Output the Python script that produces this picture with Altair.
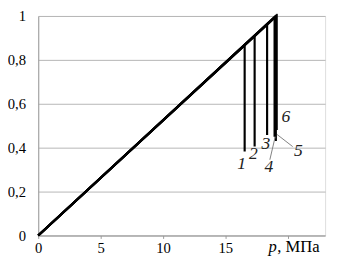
import altair as alt
import pandas as pd

# curve data: each curve rises linearly from origin to its peak, then drops
curve_ids = ["1", "2", "3", "4", "5", "6"]
peak_p = [16.55, 17.35, 18.35, 18.95, 19.05, 19.12]
peak_s = [0.868, 0.91, 0.963, 0.995, 1.0, 1.0]
drop_s = [0.383, 0.405, 0.458, 0.45, 0.43, 0.48]

# curve number labels (data coordinates)
label_p = [16.3, 17.25, 18.25, 18.5, 20.85, 19.85]
label_s = [0.325, 0.37, 0.415, 0.31, 0.383, 0.537]

# leader lines for labels 4 and 5
leader_id = ["4", "4", "5", "5"]
leader_p = [18.57, 19.0, 19.15, 20.4]
leader_s = [0.345, 0.45, 0.46, 0.405]

y_ticks = [0, 0.2, 0.4, 0.6, 0.8, 1.0]
x_ticks = [0, 5, 10, 15, 20]

rows = []
for cid, pp, ps, ds in zip(curve_ids, peak_p, peak_s, drop_s):
    rows.append({"curve": cid, "p": 0.0, "s": 0.0, "o": 0})
    rows.append({"curve": cid, "p": pp, "s": ps, "o": 1})
    rows.append({"curve": cid, "p": pp, "s": ds, "o": 2})
curves = pd.DataFrame(rows)
labels = pd.DataFrame({"t": curve_ids, "p": label_p, "s": label_s})
leaders = pd.DataFrame({"id": leader_id, "p": leader_p, "s": leader_s})

FONT = "Liberation Serif"
xs = alt.Scale(domain=[0, 23], nice=False, zero=False)
ys = alt.Scale(domain=[0, 1], nice=False)

x_axis = alt.Axis(values=x_ticks, title=None, grid=False,
                  labelExpr="datum.value == 20 ? '' : datum.label",
                  labelFont=FONT, labelFontSize=15, labelColor="#000",
                  domainColor="#9a9a9a", tickColor="#9a9a9a", tickSize=3,
                  labelPadding=2, labelFlush=False)
y_axis = alt.Axis(values=y_ticks, title=None, grid=True, gridColor="#b5b5b5",
                  labelExpr="replace(format(datum.value, '.1~f'), '.', ',')",
                  labelFont=FONT, labelFontSize=15, labelColor="#000",
                  domainColor="#9a9a9a", ticks=False, labelPadding=13)

lines = alt.Chart(curves).mark_line(color="black", strokeWidth=2.2).encode(
    x=alt.X("p:Q", scale=xs, axis=x_axis),
    y=alt.Y("s:Q", scale=ys, axis=y_axis),
    detail="curve:N",
    order="o:Q",
)

lead = alt.Chart(leaders).mark_line(color="#808080", strokeWidth=1).encode(
    x=alt.X("p:Q", scale=xs), y=alt.Y("s:Q", scale=ys), detail="id:N")

text = alt.Chart(labels).mark_text(font=FONT, fontStyle="italic", fontSize=18,
                                   color="#222", baseline="middle", align="center").encode(
    x=alt.X("p:Q", scale=xs), y=alt.Y("s:Q", scale=ys), text="t:N")

title_p = alt.Chart(pd.DataFrame({"t": ["p"]})).mark_text(
    font=FONT, fontStyle="italic", fontSize=17, color="black",
    align="left", baseline="alphabetic").encode(
    x=alt.value(236), y=alt.value(242), text="t:N")
title_rest = alt.Chart(pd.DataFrame({"t": [", МПа"]})).mark_text(
    font=FONT, fontSize=17, color="black",
    align="left", baseline="alphabetic").encode(
    x=alt.value(245), y=alt.value(242), text="t:N")

chart = alt.layer(lines, lead, text, title_p, title_rest).properties(
    width=294, height=225,
    autosize=alt.AutoSizeParams(type="none"),
    padding={"left": 31, "top": 5, "right": 4, "bottom": 24},
).configure_view(stroke=None).configure(background="white")

chart.save("out.html", embed_options={"renderer": "svg", "actions": False})
